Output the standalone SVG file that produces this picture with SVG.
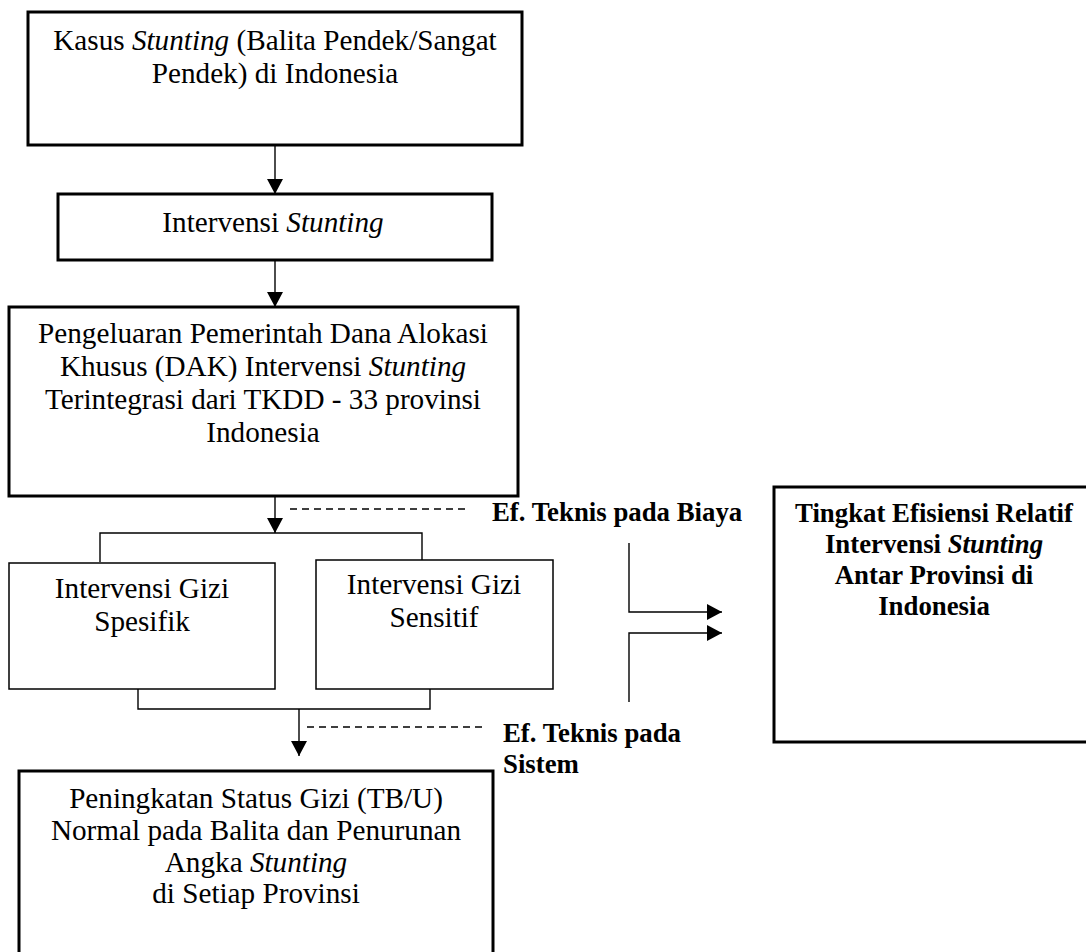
<svg xmlns="http://www.w3.org/2000/svg" width="1086" height="952" viewBox="0 0 1086 952">
<style>
.box{fill:#fff;stroke:#000;stroke-width:3}
.thin{fill:#fff;stroke:#000;stroke-width:1.5}
.ln{fill:none;stroke:#000;stroke-width:1.4}
.dash{fill:none;stroke:#000;stroke-width:1.4;stroke-dasharray:7,5}
.t{font-family:"Liberation Serif","Times New Roman",serif;font-size:29.2px;fill:#000;text-anchor:middle}
.b{font-family:"Liberation Serif","Times New Roman",serif;font-size:26.8px;font-weight:bold;fill:#000}
.c{text-anchor:middle}
</style>
<defs>
<marker id="ah" markerUnits="userSpaceOnUse" markerWidth="16" markerHeight="16" refX="15" refY="8" orient="auto">
<path d="M0,0 L15,8 L0,16 z" fill="#000"/>
</marker>
</defs>
<rect width="1086" height="952" fill="#fff"/>
<g id="connectors">
<line class="ln" x1="275" y1="146" x2="275" y2="194" marker-end="url(#ah)"/>
<line class="ln" x1="275" y1="261" x2="275" y2="307" marker-end="url(#ah)"/>
<line class="ln" x1="275" y1="497" x2="275" y2="533" marker-end="url(#ah)"/>
<line class="dash" x1="290" y1="509" x2="466" y2="509"/>
<polyline class="ln" points="100,562 100,533 422,533 422,560"/>
<polyline class="ln" points="138,689 138,709 430,709 430,689"/>
<line class="ln" x1="299" y1="709" x2="299" y2="756" marker-end="url(#ah)"/>
<line class="dash" x1="307" y1="727" x2="483" y2="727"/>
<polyline class="ln" points="629,543 629,612 722,612" marker-end="url(#ah)"/>
<polyline class="ln" points="629,702 629,633 722,633" marker-end="url(#ah)"/>
</g>
<g id="n1">
<rect class="box" x="28" y="12" width="494" height="133"/>
<text class="t" x="275" y="50">Kasus <tspan font-style="italic">Stunting</tspan> (Balita Pendek/Sangat</text>
<text class="t" x="275" y="83">Pendek) di Indonesia</text>
</g>
<g id="n2">
<rect class="box" x="58" y="194" width="434" height="66" stroke-width="2.5"/>
<text class="t" x="273" y="232">Intervensi <tspan font-style="italic">Stunting</tspan></text>
</g>
<g id="n3">
<rect class="box" x="9" y="307" width="509" height="189"/>
<text class="t" x="263" y="343">Pengeluaran Pemerintah Dana Alokasi</text>
<text class="t" x="263" y="376">Khusus (DAK) Intervensi <tspan font-style="italic">Stunting</tspan></text>
<text class="t" x="263" y="409">Terintegrasi dari TKDD - 33 provinsi</text>
<text class="t" x="263" y="442">Indonesia</text>
</g>
<g id="n4">
<rect class="thin" x="9" y="563" width="266" height="126"/>
<text class="t" x="142" y="598">Intervensi Gizi</text>
<text class="t" x="142" y="631">Spesifik</text>
</g>
<g id="n5">
<rect class="thin" x="316" y="560" width="237" height="129"/>
<text class="t" x="434" y="594">Intervensi Gizi</text>
<text class="t" x="434" y="627">Sensitif</text>
</g>
<g id="n6">
<rect class="box" x="19" y="771" width="474" height="200"/>
<text class="t" x="256" y="808">Peningkatan Status Gizi (TB/U)</text>
<text class="t" x="256" y="840">Normal pada Balita dan Penurunan</text>
<text class="t" x="256" y="872">Angka <tspan font-style="italic">Stunting</tspan></text>
<text class="t" x="256" y="903">di Setiap Provinsi</text>
</g>
<g id="n7">
<rect class="box" x="774" y="487" width="330" height="255"/>
<text class="b c" x="934" y="522">Tingkat Efisiensi Relatif</text>
<text class="b c" x="934" y="553">Intervensi <tspan font-style="italic">Stunting</tspan></text>
<text class="b c" x="934" y="584">Antar Provinsi di</text>
<text class="b c" x="934" y="615">Indonesia</text>
</g>
<g id="labels">
<text class="b" x="492" y="521">Ef. Teknis pada Biaya</text>
<text class="b" x="503" y="742">Ef. Teknis pada</text>
<text class="b" x="503" y="773">Sistem</text>
</g>
</svg>
